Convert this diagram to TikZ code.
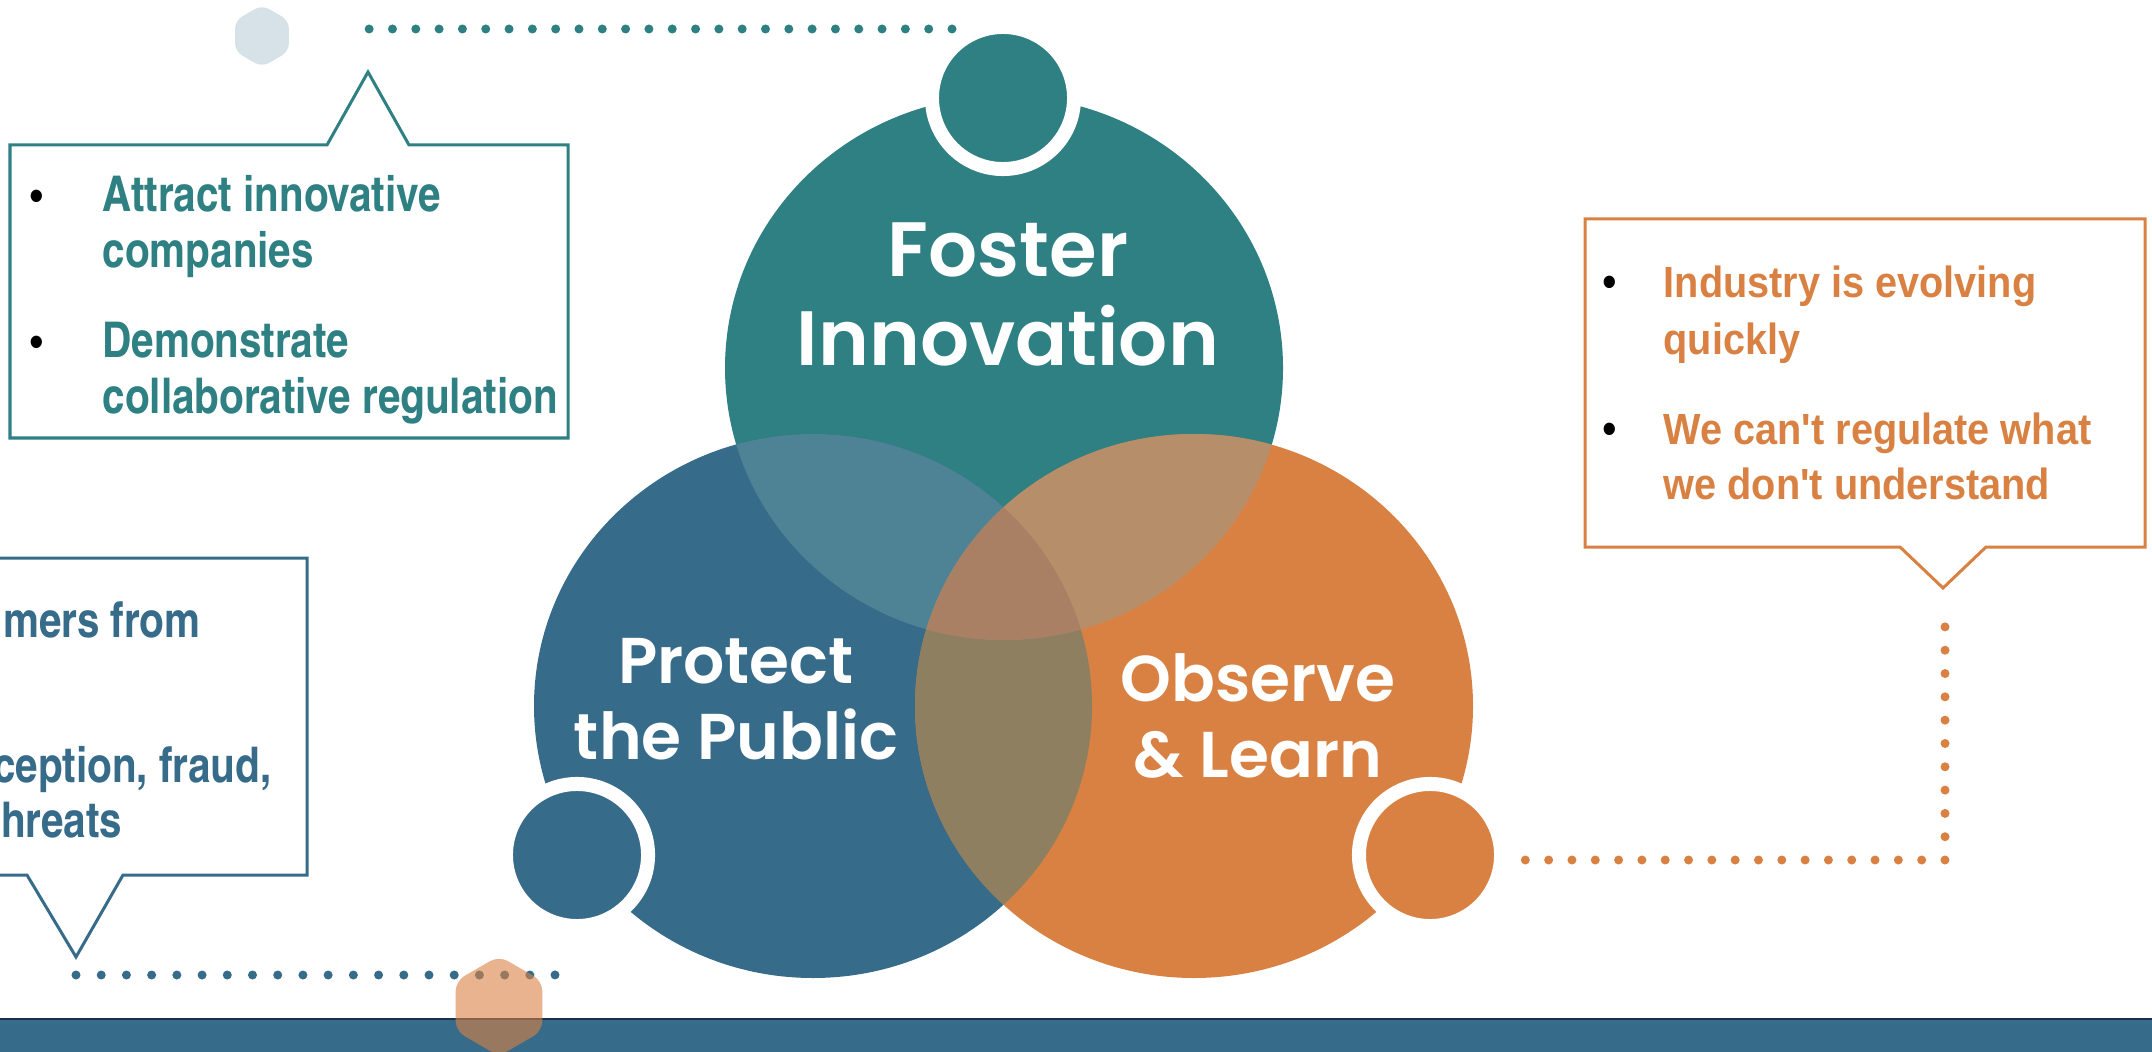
\documentclass[tikz,border=0pt]{standalone}
\usepackage{fontspec}
\usetikzlibrary{shapes.geometric}
\newfontfamily\popfont{Poppins}[BoldFont=* SemiBold]
\newfontfamily\condfont{texgyreheroscn-bold.otf}
\newfontfamily\arialfont{Liberation Sans}[FakeStretch=0.91]
\definecolor{myteal}{RGB}{46,128,131}
\definecolor{myblue}{RGB}{55,107,138}
\definecolor{myorange}{RGB}{217,129,66}
\definecolor{mynavy}{RGB}{30,45,80}
\definecolor{tealblue}{RGB}{78,130,149}
\definecolor{tealorange}{RGB}{183,142,106}
\definecolor{blueorange}{RGB}{141,127,95}
\definecolor{allthree}{RGB}{169,128,99}
\tikzstyle{disc}=[x radius=279, y radius=272]
\tikzstyle{small disc}=[circle, minimum size=1.42cm, inner sep=0pt, draw=white, line width=0.14cm]
\tikzstyle{hexagon}=[regular polygon, regular polygon sides=6, rotate=30, inner sep=0pt, rounded corners=0.08cm]
\tikzstyle{callout}=[fill=white, line width=0.03cm]
\tikzstyle{dot line}=[line width=0.09cm, line cap=round, dash pattern=on 0pt off 0.233cm]
\tikzstyle{big label}=[anchor=base, inner sep=0pt, text=white, font=\popfont\bfseries\fontsize{21.9pt}{25pt}\selectfont]
\tikzstyle{mid label}=[big label, font=\popfont\bfseries\fontsize{18.4pt}{21pt}\selectfont]
\tikzstyle{cond text}=[anchor=base west, inner sep=0pt, font=\condfont\fontsize{14pt}{16pt}\selectfont]
\tikzstyle{arial text}=[anchor=base west, inner sep=0pt, text=myorange, font=\arialfont\bfseries\fontsize{12.4pt}{15pt}\selectfont]
\tikzstyle{bullet}=[anchor=base, inner sep=0pt, text=black, font=\arialfont\fontsize{13pt}{15pt}\selectfont]

\begin{document}
\begin{tikzpicture}[x=0.01cm, y=-0.01cm]
    \useasboundingbox (0,0) rectangle (2152,1052);
    % band
    \fill[myblue] (0,1020) rectangle (2152,1052);
    \draw[mynavy, line width=0.02cm] (0,1019) -- (2152,1019);
    \node[hexagon, minimum size=0.62cm, fill=myblue, fill opacity=0.2] (hextop) at (262,36) {};

    % callouts
    \draw[callout, draw=myteal] (10,145) -- (327,145) -- (368,72) -- (409,145) -- (568,145) -- (568,438) -- (10,438) -- cycle;
    \draw[callout, draw=myblue] (-10,558) -- (307,558) -- (307,875) -- (123,875) -- (76,957) -- (27,875) -- (-10,875);
    \draw[callout, draw=myorange] (1585,219) -- (2145,219) -- (2145,547) -- (1986,547) -- (1943,588) -- (1900,547) -- (1585,547) -- cycle;

    \foreach \y/\name/\txt in {212/ta/Attract innovative, 268/tb/companies,
                               358/tc/Demonstrate, 413/td/collaborative regulation}
        \node[cond text, text=myteal] (\name) at (102,\y) {\txt};
    \foreach \y/\name in {212/tbul1, 358/tbul2}
        \node[bullet] (\name) at (37,\y) {\textbullet};

    \foreach \x/\y/\name/\txt in {201/637/ba/umers from, 272/782/bb/{ception, fraud,}, 123/837/bc/threats}
        \node[cond text, anchor=base east, text=myblue] (\name) at (\x,\y) {\txt};

    \foreach \y/\name/\txt in {298/oa/Industry is evolving, 354/ob/quickly,
                               444/oc/We can't regulate what, 499/od/we don't understand}
        \node[arial text] (\name) at (1663,\y) {\txt};
    \foreach \y/\name in {298/obul1, 444/obul2}
        \node[bullet] (\name) at (1610,\y) {\textbullet};

    % connectors
    \coordinate (tealtip) at (369,52);
    \coordinate (fostend) at (952,29);
    \coordinate (bluetip) at (76,975);
    \coordinate (protend) at (555,950);
    \coordinate (orangetip) at (1945,606);
    \coordinate (obsend) at (1502,860);
    \draw[dot line, myteal] (fostend) -| (tealtip);
    \draw[dot line, myblue, dash pattern=on 0pt off 0.252cm] (bluetip) -| (protend);
    \draw[dot line, myorange] (obsend) -| (orangetip);

    % three discs
    \coordinate (fosterc) at (1004,368);
    \coordinate (protectc) at (813,706);
    \coordinate (observec) at (1194,706);
    \fill[myteal] (fosterc) ellipse [disc];
    \fill[myblue] (protectc) ellipse [disc];
    \fill[myorange] (observec) ellipse [disc];
    \begin{scope}
        \clip (protectc) ellipse [disc];
        \fill[blueorange] (observec) ellipse [disc];
    \end{scope}
    \begin{scope}
        \clip (fosterc) ellipse [disc];
        \fill[tealblue] (protectc) ellipse [disc];
        \fill[tealorange] (observec) ellipse [disc];
        \clip (protectc) ellipse [disc];
        \fill[allthree] (observec) ellipse [disc];
    \end{scope}

    \node[small disc, fill=myteal] (fostsmall) at (1003,98) {};
    \node[small disc, fill=myblue] (protsmall) at (577,855) {};
    \node[small disc, fill=myorange] (obssmall) at (1430,855) {};

    \node[big label] (fostera) at (1008,277) {Foster};
    \node[big label] (fosterb) at (1008,366) {Innovation};
    \node[mid label] (protecta) at (736,683) {Protect};
    \node[mid label] (protectb) at (736,759) {the Public};
    \node[mid label] (observea) at (1258,701) {Observe};
    \node[mid label] (observeb) at (1258,777) {\& Learn};

    \node[hexagon, minimum size=1.0cm, fill=myorange, fill opacity=0.6, rounded corners=0.1cm] (hexbot) at (499,1006) {};
\end{tikzpicture}
\end{document}
